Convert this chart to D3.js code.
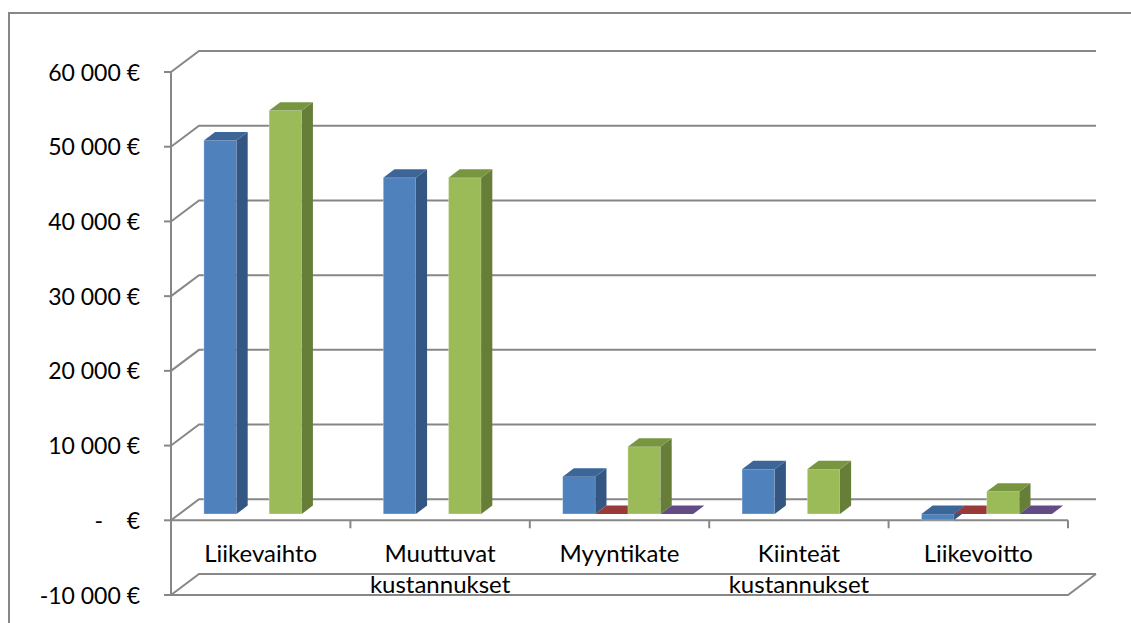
<!DOCTYPE html>
<html>
<head>
<meta charset="utf-8">
<script src="https://d3js.org/d3.v7.min.js"></script>
<style>
  body { margin: 0; background: #fff; }
  .label { font-family: Lato, "Open Sans", sans-serif; fill: #000; }
</style>
</head>
<body>
<script>
  // chart data
  var categories = ["Liikevaihto", "Muuttuvat kustannukset", "Myyntikate", "Kiinteät kustannukset", "Liikevoitto"]
  var blueValues   = [50000, 45000, 5000, 6000, -800]
  var redValues    = [null, null, 0, null, 0]
  var greenValues  = [54000, 45000, 9000, 6000, 3000]
  var purpleValues = [null, null, 0, null, 0]
  var yTicks = [-10000, 0, 10000, 20000, 30000, 40000, 50000, 60000]

  var seriesList = [blueValues, redValues, greenValues, purpleValues]
  var colors = [
    { front: "#4F81BD", side: "#335683", top: "#3D6698" },
    { front: "#C0504D", side: "#8C3836", top: "#983A38" },
    { front: "#9BBB59", side: "#677E38", top: "#789640" },
    { front: "#8064A2", side: "#5A4674", top: "#634C85" }
  ]

  var W = 1131, H = 623
  var left = 171, right = 1068
  var DX = 28, DY = -21       // full depth of the 3d box
  var z0 = 0.3, z1 = 0.7      // bars sit in the middle of the depth
  var gridColor = "#878787"

  var svg = d3.select("body").append("svg").attr("width", W).attr("height", H)

  // outer chart border
  svg.append("rect")
    .attr("x", 9).attr("y", 13)
    .attr("width", 1200).attr("height", 700)
    .attr("fill", "none").attr("stroke", gridColor).attr("stroke-width", 2)

  var y = d3.scaleLinear().domain([-10000, 60000]).range([595, 72])
  var x = d3.scaleBand().domain(d3.range(categories.length)).range([left, right])
  var xs = d3.scaleBand().domain(d3.range(seriesList.length))
    .range([0, x.bandwidth()]).paddingInner(0).paddingOuter(0.75)

  var fmt = function(v) {
    if (v === 0) return "-\u00A0\u00A0\u00A0\u00A0€"
    var s = d3.format(",")(Math.abs(v)).replace(/,/g, "\u00A0")
    return (v < 0 ? "-" : "") + s + "\u00A0€"
  }

  var g = svg.append("g")
  var y0 = y(0)

  // back wall gridlines with the diagonal on the left wall
  g.selectAll(".grid").data(yTicks).enter().append("path")
    .attr("d", function(d) {
      return "M" + left + "," + y(d) + "L" + (left + DX) + "," + (y(d) + DY) +
             "L" + (right + DX) + "," + (y(d) + DY)
    })
    .attr("fill", "none").attr("stroke", gridColor).attr("stroke-width", 2)

  // floor at the lowest value
  g.append("path")
    .attr("d", "M" + left + "," + y(-10000) + "L" + right + "," + y(-10000) +
               "L" + (right + DX) + "," + (y(-10000) + DY))
    .attr("fill", "none").attr("stroke", gridColor).attr("stroke-width", 2)

  // value axis line and ticks
  g.append("line")
    .attr("x1", left).attr("x2", left)
    .attr("y1", y(60000)).attr("y2", y(-10000))
    .attr("stroke", gridColor).attr("stroke-width", 2)
  g.selectAll(".ytick").data(yTicks).enter().append("line")
    .attr("x1", left - 7).attr("x2", left)
    .attr("y1", function(d) { return y(d) }).attr("y2", function(d) { return y(d) })
    .attr("stroke", gridColor).attr("stroke-width", 2)

  // category axis at zero, with ticks between categories
  g.append("line")
    .attr("x1", left).attr("x2", right).attr("y1", y0).attr("y2", y0)
    .attr("stroke", gridColor).attr("stroke-width", 2)
  g.selectAll(".xtick").data(d3.range(categories.length + 1)).enter().append("line")
    .attr("x1", function(i) { return left + i * x.bandwidth() })
    .attr("x2", function(i) { return left + i * x.bandwidth() })
    .attr("y1", y0).attr("y2", y0 + 8)
    .attr("stroke", gridColor).attr("stroke-width", 2)

  // bars, drawn left to right so the next front face covers the side face
  var bars = []
  categories.forEach(function(c, ci) {
    seriesList.forEach(function(vals, si) {
      if (vals[ci] !== null) bars.push({ c: ci, s: si, v: vals[ci] })
    })
  })

  var w = xs.bandwidth()
  var fx = DX * z0, fy = DY * z0
  var ddx = DX * (z1 - z0), ddy = DY * (z1 - z0)

  var bar = g.selectAll(".bar").data(bars).enter().append("g")
  bar.each(function(d) {
    var el = d3.select(this)
    var bx = x(d.c) + xs(d.s) + fx
    var yt = y(Math.max(d.v, 0)) + fy
    var yb = y(Math.min(d.v, 0)) + fy
    var col = colors[d.s]
    if (yb - yt > 0.5) {
      el.append("rect")
        .attr("x", bx).attr("y", yt).attr("width", w).attr("height", yb - yt)
        .attr("fill", col.front)
        .attr("stroke", "rgba(255,255,255,0.35)").attr("stroke-width", 0.8)
      el.append("path")
        .attr("d", "M" + (bx + w) + "," + yt + "L" + (bx + w + ddx) + "," + (yt + ddy) +
                   "L" + (bx + w + ddx) + "," + (yb + ddy) + "L" + (bx + w) + "," + yb + "Z")
        .attr("fill", col.side)
    }
    el.append("path")
      .attr("d", "M" + bx + "," + yt + "L" + (bx + w) + "," + yt +
                 "L" + (bx + w + ddx) + "," + (yt + ddy) + "L" + (bx + ddx) + "," + (yt + ddy) + "Z")
      .attr("fill", col.top)
  })

  // value labels
  svg.selectAll(".ylab").data(yTicks).enter().append("text")
    .attr("class", "label")
    .attr("x", 140)
    .attr("y", function(d) { return y(d) + 8.5 })
    .attr("text-anchor", "end")
    .style("font-size", "23px")
    .text(fmt)

  // category labels, wrapped on spaces
  var cl = svg.selectAll(".xlab").data(categories).enter().append("text")
    .attr("class", "label")
    .attr("text-anchor", "middle")
    .style("font-size", "24px")
  cl.each(function(d, i) {
    var words = d.split(" ")
    var t = d3.select(this)
    words.forEach(function(word, k) {
      t.append("tspan")
        .attr("x", x(i) + x.bandwidth() / 2)
        .attr("y", 562 + k * 31)
        .text(word)
    })
  })
</script>
</body>
</html>
